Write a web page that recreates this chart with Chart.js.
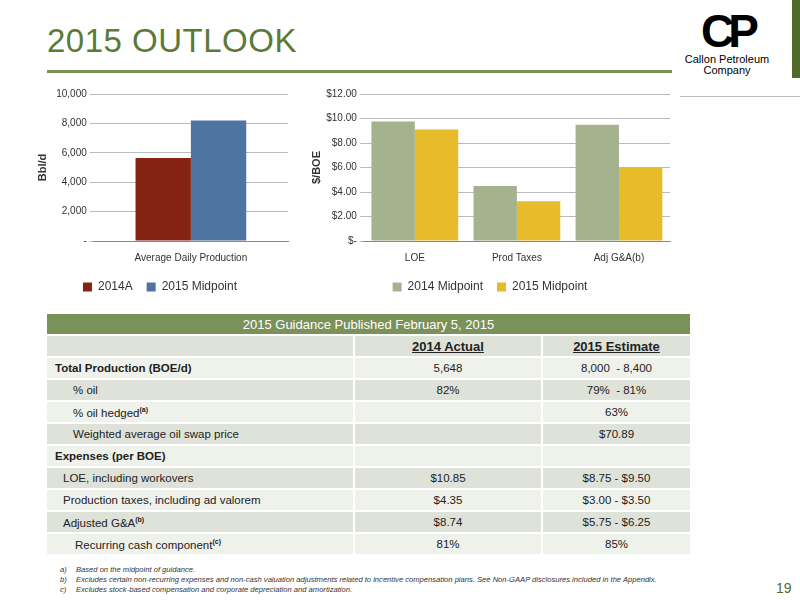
<!DOCTYPE html>
<html>
<head>
<meta charset="utf-8">
<script src="https://cdn.jsdelivr.net/npm/chart.js@4"></script>
<style>
  body { margin: 0; width: 800px; height: 600px; position: relative; background: #fff; font-family: "Liberation Sans", Arial, sans-serif; overflow: hidden; }
  .abs { position: absolute; }
  #title { left: 47px; top: 22px; font-size: 33px; color: #5b7a37; letter-spacing: 0.5px; }
  #rule { left: 47px; top: 70px; width: 625px; height: 3px; background: #7a9158; }
  #rule2 { left: 680px; top: 96px; width: 120px; height: 1px; background: #bbb; }
  #sidebar { left: 792px; top: 0; width: 8px; height: 78px; background: #4f6b2a; }
  #logo { left: 672px; top: 8px; width: 110px; text-align: center; }
  #logo .cp { font-size: 46px; font-weight: bold; line-height: 46px; letter-spacing: -6px; }
  #logo .nm { font-size: 11px; line-height: 11px; }
  table { position: absolute; left: 47px; top: 314px; width: 645px; border-collapse: collapse; font-size: 11.5px; color: #222; }
  td { height: 20px; padding: 0 8px; border-right: 2px solid #fff; border-bottom: 2px solid #fff; }
  td.c { text-align: center; }
  tr.d td { background: #dfe2d9; }
  tr.l td { background: #eff1eb; }
  tr.h td { background: #7b915a; color: #fff; text-align: center; font-size: 13px; height: 20px; }
  tr.s td { height: 20px; font-size: 13px; font-weight: bold; }
  sup { font-size: 7px; font-weight: bold; }
  #notes { left: 60px; top: 565px; font-size: 7.6px; font-style: italic; color: #333; line-height: 10px; }
  #notes span { display: inline-block; width: 16px; }
  #page { left: 776px; top: 580px; font-size: 14px; color: #4f6b2a; }
</style>
</head>
<body>
<div id="title" class="abs">2015 OUTLOOK</div>
<div id="rule" class="abs"></div>
<div id="rule2" class="abs"></div>
<div id="sidebar" class="abs"></div>
<div id="logo" class="abs"><div class="cp">CP</div><div class="nm">Callon Petroleum<br>Company</div></div>

<div class="abs" style="left:20px;top:85px;width:280px;height:218px"><canvas id="prod"></canvas></div>
<div class="abs" style="left:300px;top:85px;width:378px;height:218px"><canvas id="cost"></canvas></div>

<table>
  <tr class="h"><td colspan="3">2015 Guidance Published February 5, 2015</td></tr>
  <tr class="d s"><td style="width:290px"></td><td class="c" style="width:170px"><u>2014 Actual</u></td><td class="c"><u>2015 Estimate</u></td></tr>
  <tr class="l"><td><b>Total Production (BOE/d)</b></td><td class="c">5,648</td><td class="c">8,000&nbsp; - 8,400</td></tr>
  <tr class="d"><td style="padding-left:26px">% oil</td><td class="c">82%</td><td class="c">79%&nbsp; - 81%</td></tr>
  <tr class="l"><td style="padding-left:26px">% oil hedged<sup>(a)</sup></td><td class="c"></td><td class="c">63%</td></tr>
  <tr class="d"><td style="padding-left:26px">Weighted average oil swap price</td><td class="c"></td><td class="c">$70.89</td></tr>
  <tr class="l"><td><b>Expenses (per BOE)</b></td><td class="c"></td><td class="c"></td></tr>
  <tr class="d"><td style="padding-left:16px">LOE, including workovers</td><td class="c">$10.85</td><td class="c">$8.75 - $9.50</td></tr>
  <tr class="l"><td style="padding-left:16px">Production taxes, including ad valorem</td><td class="c">$4.35</td><td class="c">$3.00 - $3.50</td></tr>
  <tr class="d"><td style="padding-left:16px">Adjusted G&amp;A<sup>(b)</sup></td><td class="c">$8.74</td><td class="c">$5.75 - $6.25</td></tr>
  <tr class="l"><td style="padding-left:28px">Recurring cash component<sup>(c)</sup></td><td class="c">81%</td><td class="c">85%</td></tr>
</table>

<div id="notes" class="abs">
  <div><span>a)</span>Based on the midpoint of guidance.</div>
  <div><span>b)</span>Excludes certain non-recurring expenses and non-cash valuation adjustments related to incentive compensation plans. See Non-GAAP disclosures included in the Appendix.</div>
  <div><span>c)</span>Excludes stock-based compensation and corporate depreciation and amortization.</div>
</div>
<div id="page" class="abs">19</div>

<script>
const prodLabels = ['Average Daily Production'];
const prod2014 = [5650];
const prod2015 = [8200];

const costLabels = ['LOE', 'Prod Taxes', 'Adj G&A(b)'];
const cost2014 = [9.75, 4.5, 9.5];
const cost2015 = [9.1, 3.25, 6.0];

Chart.defaults.font.family = '"Liberation Sans", Arial, sans-serif';
Chart.defaults.color = '#333';
Chart.defaults.animation = false;

const legend = {
  position: 'bottom',
  labels: { boxWidth: 9, boxHeight: 9, font: { size: 12 }, padding: 14 }
};

new Chart(document.getElementById('prod'), {
  type: 'bar',
  data: {
    labels: prodLabels,
    datasets: [
      { label: '2014A', data: prod2014, backgroundColor: '#852212' },
      { label: '2015 Midpoint', data: prod2015, backgroundColor: '#4e74a4' }
    ]
  },
  options: {
    responsive: true,
    maintainAspectRatio: false,
    layout: { padding: { left: 12, right: 12, top: 6 } },
    categoryPercentage: 0.57,
    barPercentage: 1,
    plugins: { legend: legend },
    scales: {
      x: { grid: { display: false }, border: { color: '#888' }, ticks: { font: { size: 10 } } },
      y: {
        min: 0, max: 10000,
        ticks: { stepSize: 2000, font: { size: 10 }, callback: v => v === 0 ? '-' : v.toLocaleString('en-US') },
        grid: { color: '#bbb', tickLength: 4 },
        border: { display: false },
        title: { display: true, text: 'Bbl/d', font: { size: 11, weight: 'bold' } }
      }
    }
  }
});

new Chart(document.getElementById('cost'), {
  type: 'bar',
  data: {
    labels: costLabels,
    datasets: [
      { label: '2014 Midpoint', data: cost2014, backgroundColor: '#a4b38e' },
      { label: '2015 Midpoint', data: cost2015, backgroundColor: '#e7bb2a' }
    ]
  },
  options: {
    responsive: true,
    maintainAspectRatio: false,
    layout: { padding: { left: 10, right: 8, top: 6 } },
    categoryPercentage: 0.85,
    barPercentage: 1,
    plugins: { legend: legend },
    scales: {
      x: { grid: { display: false }, border: { color: '#888' }, ticks: { font: { size: 10 } } },
      y: {
        min: 0, max: 12,
        ticks: { stepSize: 2, font: { size: 10 }, callback: v => v === 0 ? '$-' : '$' + v.toFixed(2) },
        grid: { color: '#bbb', tickLength: 4 },
        border: { display: false },
        title: { display: true, text: '$/BOE', font: { size: 11, weight: 'bold' }, padding: 0 }
      }
    }
  }
});
</script>
</body>
</html>
